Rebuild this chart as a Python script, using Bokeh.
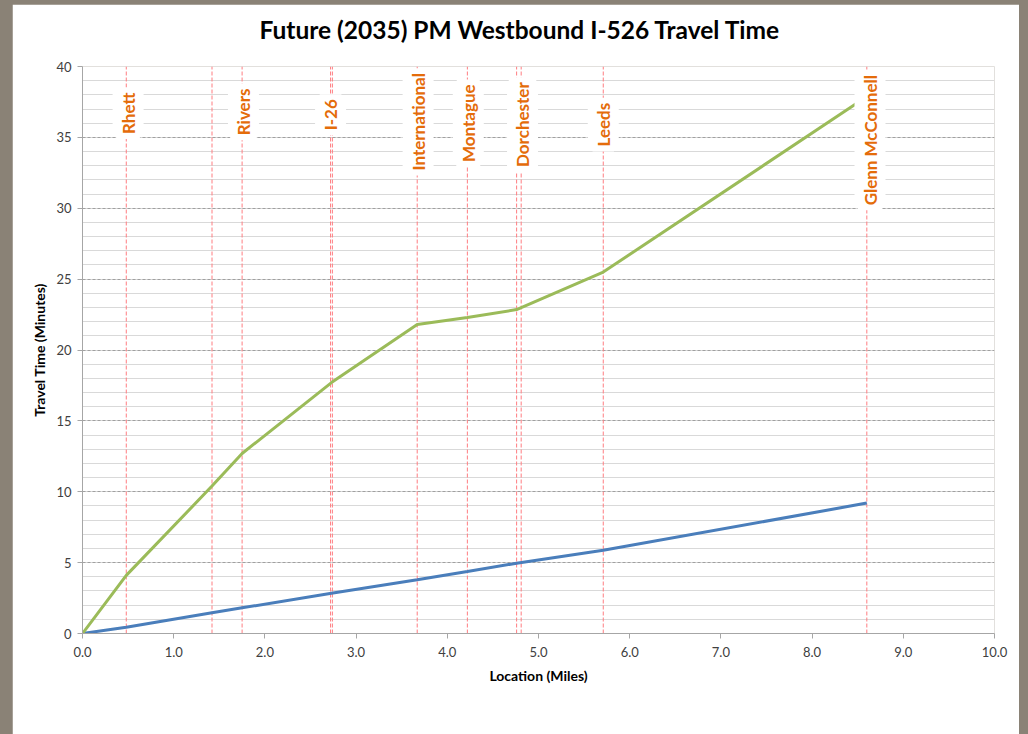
import math

from bokeh.plotting import figure
from bokeh.models import (ColumnDataSource, LabelSet, Legend, LegendItem, Title,
                          SingleIntervalTicker, NumeralTickFormatter, Range1d)
from bokeh.core.properties import value
from bokeh.embed import file_html
from bokeh.resources import INLINE

# Travel time along westbound I-526, future (2035) PM peak
build_miles = [0.0, 0.48, 1.42, 1.75, 2.73, 3.67, 4.22, 4.76, 5.71, 8.60]
build_minutes = [0.0, 0.44, 1.46, 1.81, 2.84, 3.79, 4.37, 4.96, 5.87, 9.2]
nobuild_miles = [0.0, 0.48, 1.42, 1.75, 2.73, 3.67, 4.22, 4.76, 5.71, 8.49]
nobuild_minutes = [0.0, 4.1, 10.4, 12.7, 17.7, 21.8, 22.3, 22.85, 25.5, 37.4]

# Interchange ramp locations (miles)
ramp_miles = [0.48, 1.42, 1.75, 2.72, 2.74, 3.67, 4.22, 4.76, 4.81, 5.71, 8.60]

# Interchange names and where their labels sit
interchange_names = ["Rhett", "Rivers", "I-26", "International", "Montague",
                     "Dorchester", "Leeds", "Glenn McConnell"]
interchange_label_miles = [0.50, 1.765, 2.72, 3.68, 4.23, 4.825, 5.71, 8.635]
interchange_label_minutes = [36.7, 36.8, 36.6, 36.1, 36.0, 35.9, 35.9, 34.8]

x_ticks = [0, 1, 2, 3, 4, 5, 6, 7, 8, 9, 10]
y_ticks = [0, 5, 10, 15, 20, 25, 30, 35, 40]

FONT = "Lato"
BLUE = "#4a7ebb"
GREEN = "#9bbb59"
RED = "#ff7c80"
ORANGE = "#e46c0a"

p = figure(frame_width=912, frame_height=567,
           output_backend="svg", toolbar_location=None, title=None,
           x_range=Range1d(0, 10), y_range=Range1d(0, 40),
           min_border_left=70, min_border_right=25,
           min_border_top=62, min_border_bottom=101,
           background_fill_color="white", border_fill_color="white",
           outline_line_color=None)
p.margin = (4, 0, 0, 12)

# Gap between title and plot area, then the title itself
p.add_layout(Title(text=" ", text_font_size="12px", standoff=7), "above")
p.add_layout(Title(text="Future (2035) PM Westbound I-526 Travel Time",
                   align="left", offset=177, standoff=0,
                   text_font=FONT, text_font_size="24.5px",
                   text_font_style="bold", text_color="black"), "above")

# Axes
p.xaxis.ticker = SingleIntervalTicker(interval=1, num_minor_ticks=0)
p.xaxis.formatter = NumeralTickFormatter(format="0.0")
p.yaxis.ticker = SingleIntervalTicker(interval=5, num_minor_ticks=5)
for ax in (p.xaxis[0], p.yaxis[0]):
    ax.axis_line_color = "#a6a6a6"
    ax.major_tick_line_color = "#a6a6a6"
    ax.major_tick_out = 5
    ax.major_tick_in = 0
    ax.minor_tick_line_color = None
    ax.major_label_text_font = FONT
    ax.major_label_text_font_size = "13px"
    ax.major_label_text_color = "#404040"
    ax.axis_label_text_font = FONT
    ax.axis_label_text_font_size = "14px"
    ax.axis_label_text_font_style = "bold"
    ax.axis_label_text_color = "black"
p.xaxis.axis_label = "Location (Miles)"
p.yaxis.axis_label = "Travel Time (Minutes)"
p.xaxis.major_label_standoff = 8
p.xaxis.axis_label_standoff = 7
p.yaxis.major_label_standoff = 6
p.yaxis.axis_label_standoff = 5

# Grid: dashed every 5 minutes, light solid every minute
p.xgrid.visible = False
p.ygrid.ticker = SingleIntervalTicker(interval=5, num_minor_ticks=5)
p.ygrid.grid_line_color = "#a0a0a0"
p.ygrid.grid_line_dash = "3 2"
p.ygrid.minor_grid_line_color = "#d9d9d9"

# Interchange ramp markers
ramp_src = ColumnDataSource(dict(x=ramp_miles,
                                 y0=[y_ticks[0]] * len(ramp_miles),
                                 y1=[y_ticks[-1]] * len(ramp_miles)))
p.segment(x0="x", y0="y0", x1="x", y1="y1", source=ramp_src,
          line_color=RED, line_width=1, line_dash="4 2")

# Travel time series
r_build = p.line(build_miles, build_minutes, line_color=BLUE, line_width=3)
r_nobuild = p.line(nobuild_miles, nobuild_minutes, line_color=GREEN, line_width=3)

# Interchange names on a white box
lab_src = ColumnDataSource(dict(x=interchange_label_miles,
                                y=interchange_label_minutes,
                                text=interchange_names))
p.add_layout(LabelSet(x="x", y="y", text="text", source=lab_src,
                      angle=math.pi / 2, text_align="center",
                      text_baseline="middle", text_font=value(FONT),
                      text_font_size=value("17px"), text_font_style=value("bold"),
                      text_color=ORANGE, background_fill_color="white",
                      border_line_color="white", border_line_width=10))

# Legend under the x axis
legend = Legend(items=[LegendItem(label="Build", renderers=[r_build]),
                       LegendItem(label="No Build", renderers=[r_nobuild])],
                orientation="horizontal", location="top_center",
                padding=0, spacing=16, margin=18,
                glyph_width=30, glyph_height=20, label_standoff=2,
                label_text_font=FONT, label_text_font_size="13px",
                label_text_color="#404040",
                background_fill_alpha=0, border_line_color=None)
p.add_layout(legend, "below")

html = file_html(p, INLINE)
html = html.replace("</head>",
                    "<style>html,body{margin:0;background:#8a8276;}</style></head>", 1)
open("out.html", "w").write(html)
